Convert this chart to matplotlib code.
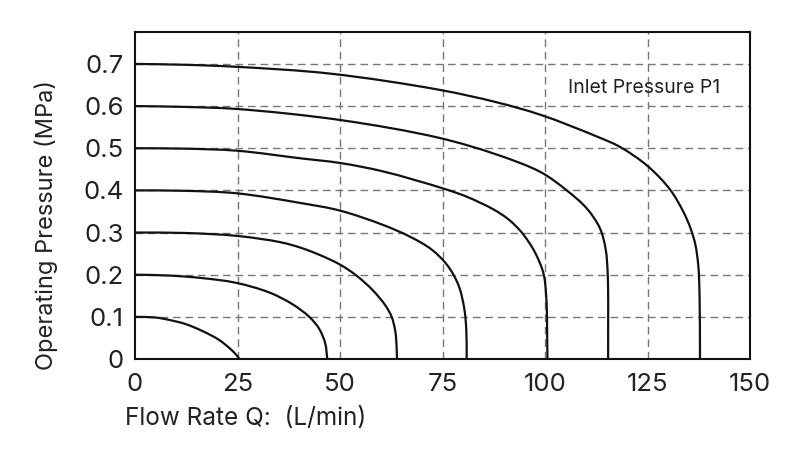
import numpy as np
import matplotlib.pyplot as plt
from matplotlib.path import Path
from matplotlib.patches import PathPatch

plt.rcParams['font.family'] = ['Inter', 'DejaVu Sans']

# flow rate Q (L/min) and operating pressure (MPa)
q_01 = [0, 4.9, 8.2, 12.3, 16.3, 20.4, 22.9, 24.5, 25.5]
p_01 = [0.1, 0.0985, 0.093, 0.083, 0.067, 0.046, 0.027, 0.012, 0]

q_02 = [0, 8.2, 16.3, 24.5, 32.7, 38.4, 42.5, 44.9, 46.4, 46.9]
p_02 = [0.2, 0.198, 0.192, 0.181, 0.158, 0.13, 0.1, 0.072, 0.037, 0]

q_03 = [0, 12, 24.9, 35.5, 40.4, 45, 50, 54, 58, 61, 62.6, 63.5, 63.8, 63.9]
p_03 = [0.3, 0.299, 0.292, 0.277, 0.264, 0.247, 0.224, 0.198, 0.163, 0.128, 0.1, 0.065, 0.03, 0]

q_04 = [0, 12, 24.9, 40.4, 50, 60.5, 67.1, 72.3, 76.2, 78.9, 80.3, 80.8, 80.9]
p_04 = [0.4, 0.399, 0.393, 0.37, 0.352, 0.318, 0.29, 0.26, 0.222, 0.175, 0.12, 0.07, 0]

q_05 = [0, 12, 25, 40.4, 50, 60.5, 75, 80.9, 87.4, 91, 93.9, 96, 97.6, 99.6, 100.3, 100.6]
p_05 = [0.5, 0.499, 0.494, 0.476, 0.465, 0.445, 0.405, 0.385, 0.355, 0.332, 0.305, 0.278, 0.252, 0.204, 0.148, 0]

q_06 = [0, 12, 25, 50, 74, 88.2, 99, 105.3, 110.2, 113.4, 114.8, 115.3, 115.4]
p_06 = [0.6, 0.598, 0.593, 0.567, 0.525, 0.485, 0.443, 0.40, 0.357, 0.31, 0.26, 0.2, 0]

q_07 = [0, 12, 25, 47.6, 74, 88.2, 99, 112.6, 118.3, 125, 130.5, 133.7, 135.5, 136.7, 137.4, 137.7, 137.8]
p_07 = [0.7, 0.698, 0.693, 0.677, 0.639, 0.609, 0.579, 0.528, 0.503, 0.458, 0.402, 0.35, 0.31, 0.27, 0.22, 0.15, 0]

x_ticks = [0, 25, 50, 75, 100, 125, 150]
y_ticks = [0, 0.1, 0.2, 0.3, 0.4, 0.5, 0.6, 0.7]
y_tick_labels = ['0', '0.1', '0.2', '0.3', '0.4', '0.5', '0.6', '0.7']


def smooth_path(q, p, sx, sy, alpha=0.5):
    # centripetal catmull-rom through the read points, drawn as bezier segments
    pts = np.column_stack([np.asarray(q, float) * sx, np.asarray(p, float) * sy])
    ext = np.vstack([2 * pts[0] - pts[1], pts, 2 * pts[-1] - pts[-2]])
    verts = [pts[0]]
    codes = [Path.MOVETO]
    for i in range(1, len(ext) - 2):
        p0, p1, p2, p3 = ext[i - 1], ext[i], ext[i + 1], ext[i + 2]
        d1 = np.hypot(*(p1 - p0)) ** alpha
        d2 = np.hypot(*(p2 - p1)) ** alpha
        d3 = np.hypot(*(p3 - p2)) ** alpha
        b1 = (d1**2 * p2 - d2**2 * p0 + (2 * d1**2 + 3 * d1 * d2 + d2**2) * p1) / (3 * d1 * (d1 + d2))
        b2 = (d3**2 * p1 - d2**2 * p3 + (2 * d3**2 + 3 * d3 * d2 + d2**2) * p2) / (3 * d3 * (d3 + d2))
        verts += [b1, b2, p2]
        codes += [Path.CURVE4] * 3
    verts = np.array(verts) / [sx, sy]
    return Path(verts, codes)


fig = plt.figure(figsize=(8, 4.7), dpi=100)
ax = fig.add_axes([135 / 800, 1 - 359 / 470, 615 / 800, (359 - 32.3) / 470])

ax.set_xlim(0, 150)
ax.set_ylim(0, 0.775)
sx = 615 / 150
sy = 326.7 / 0.775

for q, p in [(q_01, p_01), (q_02, p_02), (q_03, p_03), (q_04, p_04),
             (q_05, p_05), (q_06, p_06), (q_07, p_07)]:
    ax.add_patch(PathPatch(smooth_path(q, p, sx, sy), fill=False,
                           edgecolor='#111111', lw=1.6, zorder=3))

ax.set_xticks(x_ticks)
ax.set_yticks(y_ticks)
ax.set_yticklabels(y_tick_labels)
ax.tick_params(length=0, labelsize=18.5, colors='#222222')
ax.tick_params(axis='x', pad=10)
ax.tick_params(axis='y', pad=8)

for x in x_ticks[1:-1]:
    ax.axvline(x, color='#777777', lw=1, ls=(0, (5.5, 3.5)), zorder=1)
for y in y_ticks[1:]:
    ax.axhline(y, color='#777777', lw=1, ls=(0, (5.5, 3.5)), zorder=1)

for s in ax.spines.values():
    s.set_linewidth(1.5)
    s.set_color('#111111')

ax.text(105.6, 0.630, 'Inlet Pressure P1', fontsize=14, color='#222222', va='baseline')

fig.text(125 / 800, 1 - 425 / 470, 'Flow Rate Q:  (L/min)', fontsize=17.5,
         color='#222222', va='baseline', ha='left')
fig.text(46 / 800, 1 - 225.5 / 470, 'Operating Pressure (MPa)', fontsize=17,
         color='#222222', rotation=90, ha='center', va='center')

fig.savefig('out.png', dpi=100, facecolor='white')
